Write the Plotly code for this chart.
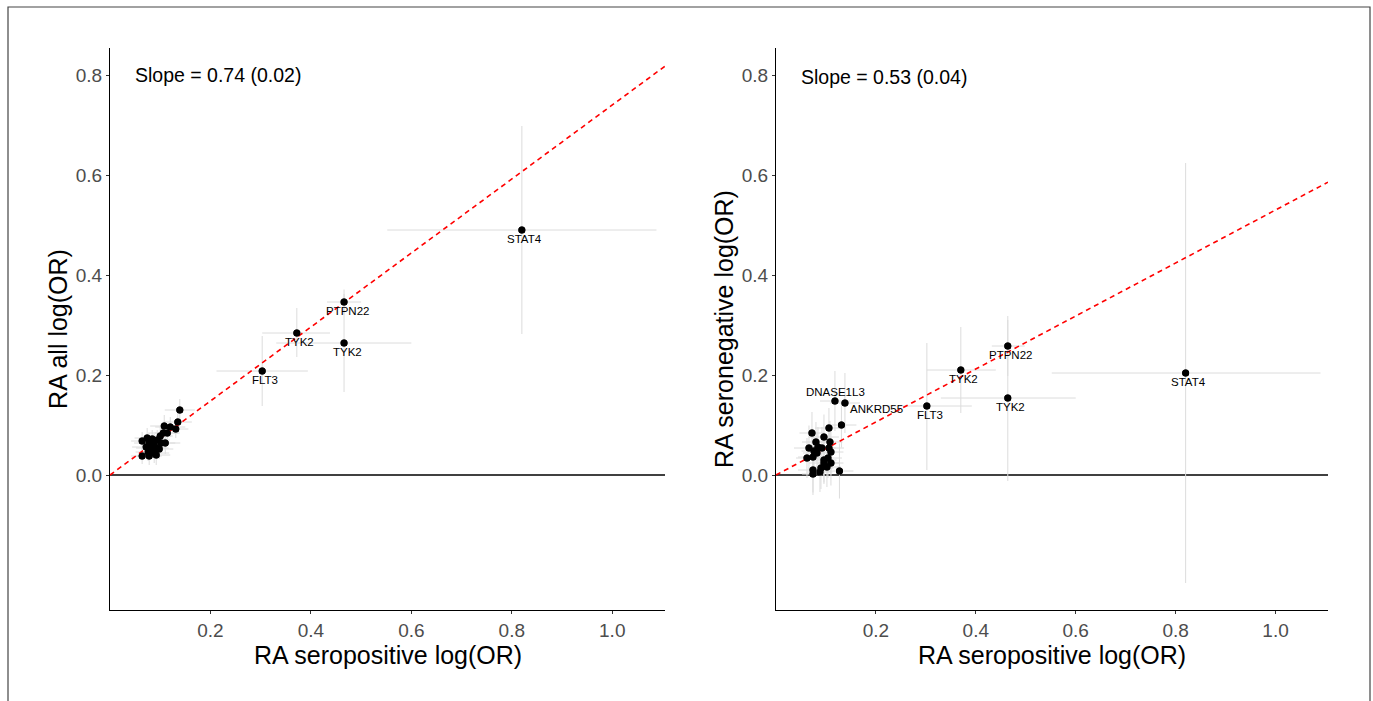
import plotly.graph_objects as go

W, H = 1373, 701

# ---------------- Left panel: RA seropositive vs RA all ----------------
left_genes = ["STAT4", "PTPN22", "TYK2", "TYK2", "FLT3"]
left_gene_x = [0.820, 0.466, 0.372, 0.466, 0.303]
left_gene_y = [0.490, 0.346, 0.284, 0.264, 0.208]
left_gene_xlo = [0.268, 0.034, 0.069, 0.135, 0.091]
left_gene_xhi = [0.268, 0.034, 0.066, 0.134, 0.091]
left_gene_ylo = [0.208, 0.025, 0.048, 0.098, 0.070]
left_gene_yhi = [0.208, 0.025, 0.050, 0.098, 0.070]

left_clu_x = [0.139, 0.135, 0.131, 0.120, 0.108, 0.114, 0.106, 0.100, 0.102, 0.110,
              0.094, 0.084, 0.074, 0.064, 0.078, 0.088, 0.072, 0.082, 0.092, 0.098,
              0.076, 0.088, 0.078, 0.064, 0.092]
left_clu_y = [0.130, 0.106, 0.092, 0.096, 0.098, 0.084, 0.084, 0.078, 0.064, 0.064,
              0.070, 0.072, 0.074, 0.068, 0.064, 0.060, 0.056, 0.054, 0.054, 0.052,
              0.046, 0.044, 0.038, 0.038, 0.040]
left_clu_ex = [0.030, 0.028, 0.025, 0.030, 0.028, 0.025, 0.030, 0.025, 0.028, 0.030,
               0.025, 0.028, 0.025, 0.022, 0.030, 0.025, 0.028, 0.030, 0.025, 0.028,
               0.025, 0.030, 0.025, 0.022, 0.028]
left_clu_ey = [0.022, 0.020, 0.018, 0.020, 0.022, 0.018, 0.020, 0.018, 0.020, 0.022,
               0.020, 0.018, 0.020, 0.018, 0.020, 0.022, 0.018, 0.020, 0.018, 0.020,
               0.018, 0.020, 0.018, 0.016, 0.020]
left_slope = 0.74
left_slope_se = 0.02

# ---------------- Right panel: RA seropositive vs RA seronegative ----------------
right_genes = ["STAT4", "PTPN22", "TYK2", "TYK2", "FLT3", "DNASE1L3", "ANKRD55"]
right_gene_x = [0.820, 0.464, 0.370, 0.464, 0.302, 0.118, 0.138]
right_gene_y = [0.204, 0.258, 0.210, 0.154, 0.138, 0.148, 0.144]
right_gene_xlo = [0.268, 0.032, 0.068, 0.134, 0.090, 0.030, 0.030]
right_gene_xhi = [0.270, 0.034, 0.070, 0.136, 0.090, 0.030, 0.030]
right_gene_ylo = [0.420, 0.060, 0.086, 0.166, 0.128, 0.060, 0.060]
right_gene_yhi = [0.420, 0.060, 0.086, 0.156, 0.126, 0.060, 0.060]
right_label_pos = ["below", "below", "below", "below", "below", "above", "right"]

right_clu_x = [0.131, 0.106, 0.072, 0.096, 0.080, 0.108, 0.066, 0.084, 0.092, 0.106,
               0.076, 0.082, 0.110, 0.062, 0.074, 0.096, 0.104, 0.096, 0.110, 0.102,
               0.090, 0.074, 0.088, 0.074, 0.127]
right_clu_y = [0.100, 0.094, 0.084, 0.076, 0.066, 0.066, 0.054, 0.056, 0.054, 0.054,
               0.048, 0.044, 0.046, 0.034, 0.036, 0.030, 0.034, 0.024, 0.024, 0.016,
               0.014, 0.010, 0.006, 0.002, 0.008]
right_clu_ex = [0.030, 0.028, 0.025, 0.030, 0.028, 0.025, 0.030, 0.025, 0.028, 0.030,
                0.025, 0.028, 0.025, 0.022, 0.030, 0.025, 0.028, 0.030, 0.025, 0.028,
                0.025, 0.030, 0.025, 0.022, 0.028]
right_clu_ey = [0.045, 0.040, 0.042, 0.045, 0.040, 0.042, 0.045, 0.040, 0.042, 0.045,
                0.040, 0.042, 0.045, 0.040, 0.042, 0.045, 0.040, 0.042, 0.045, 0.040,
                0.042, 0.045, 0.040, 0.042, 0.055]
right_slope = 0.53
right_slope_se = 0.04

x_ticks = [0.2, 0.4, 0.6, 0.8, 1.0]
y_ticks = [0.0, 0.2, 0.4, 0.6, 0.8]
x_range = [0.0, 1.105]
y_range = [-0.27, 0.854]

x_title = "RA seropositive log(OR)"
left_y_title = "RA all log(OR)"
right_y_title = "RA seronegative log(OR)"

ERR = "#DCDCDC"
FONT = "Liberation Sans, Arial, sans-serif"

fig = go.Figure()


def add_panel(xa, ya, gx, gy, gxlo, gxhi, gylo, gyhi, cx, cy, cex, cey, slope):
    xs = gx + cx
    ys = gy + cy
    fig.add_trace(go.Scatter(
        x=xs, y=ys, mode="markers", xaxis=xa, yaxis=ya,
        marker=dict(size=7, color="black"),
        error_x=dict(type="data", array=gxhi + cex, arrayminus=gxlo + cex,
                     color=ERR, thickness=1, width=0),
        error_y=dict(type="data", array=gyhi + cey, arrayminus=gylo + cey,
                     color=ERR, thickness=1, width=0),
        showlegend=False, hoverinfo="x+y"))
    fig.add_trace(go.Scatter(
        x=[0, x_range[1]], y=[0, slope * x_range[1]], mode="lines",
        xaxis=xa, yaxis=ya, line=dict(color="#FF0000", width=1.6, dash="5px,4px"),
        showlegend=False, hoverinfo="skip"))
    fig.add_trace(go.Scatter(
        x=xs, y=ys, mode="markers", xaxis=xa, yaxis=ya,
        marker=dict(size=7, color="black"), showlegend=False, hoverinfo="skip"))


add_panel("x", "y", left_gene_x, left_gene_y, left_gene_xlo, left_gene_xhi,
          left_gene_ylo, left_gene_yhi, left_clu_x, left_clu_y, left_clu_ex, left_clu_ey, left_slope)
add_panel("x2", "y2", right_gene_x, right_gene_y, right_gene_xlo, right_gene_xhi,
          right_gene_ylo, right_gene_yhi, right_clu_x, right_clu_y, right_clu_ex, right_clu_ey, right_slope)

lab_font = dict(size=11.5, color="black", family=FONT)
annotations = []
for g, x, y in zip(left_genes, left_gene_x, left_gene_y):
    annotations.append(dict(x=x, y=y, xref="x", yref="y", text=g, showarrow=False,
                            yanchor="middle", yshift=-9, xshift=3, font=lab_font))
for g, x, y, p in zip(right_genes, right_gene_x, right_gene_y, right_label_pos):
    if p == "below":
        annotations.append(dict(x=x, y=y, xref="x2", yref="y2", text=g, showarrow=False,
                                yanchor="middle", yshift=-9, xshift=3, font=lab_font))
    elif p == "above":
        annotations.append(dict(x=x, y=y, xref="x2", yref="y2", text=g, showarrow=False,
                                yanchor="middle", yshift=9, xshift=1, font=lab_font))
    else:
        annotations.append(dict(x=x, y=y, xref="x2", yref="y2", text=g, showarrow=False,
                                xanchor="left", yanchor="middle", yshift=-6, xshift=3,
                                font=lab_font))

slope_font = dict(size=19.5, color="black", family=FONT)
annotations.append(dict(x=133 / W, y=1 - 75 / H, xref="paper", yref="paper",
                        xanchor="left", yanchor="middle",
                        text=f"Slope = {left_slope:.2f} ({left_slope_se:.2f})",
                        showarrow=False, font=slope_font))
annotations.append(dict(x=799 / W, y=1 - 77 / H, xref="paper", yref="paper",
                        xanchor="left", yanchor="middle",
                        text=f"Slope = {right_slope:.2f} ({right_slope_se:.2f})",
                        showarrow=False, font=slope_font))

title_font = dict(size=25, color="black", family=FONT)
# x-axis titles placed as centred annotations below each panel
for dom_ref in ["x domain", "x2 domain"]:
    annotations.append(dict(x=0.5, y=1 - 655 / H, xref=dom_ref, yref="paper",
                            xanchor="center", yanchor="middle", text=x_title,
                            showarrow=False, font=title_font))

shapes = [
    dict(type="line", xref="x domain", yref="y", x0=0, x1=1, y0=0, y1=0,
         line=dict(color="black", width=1.5), layer="below"),
    dict(type="line", xref="x2 domain", yref="y2", x0=0, x1=1, y0=0, y1=0,
         line=dict(color="black", width=1.5), layer="below"),
    dict(type="rect", xref="paper", yref="paper", x0=8 / W, x1=1370 / W, y0=-0.05, y1=1 - 7 / H,
         line=dict(color="#444444", width=1.2), fillcolor="rgba(0,0,0,0)"),
]

axis_common = dict(showgrid=False, zeroline=False, showline=True, linecolor="black", linewidth=1.3,
                   ticks="outside", ticklen=3, tickcolor="#333333", tickwidth=1,
                   tickfont=dict(size=19, color="#4D4D4D", family=FONT))

fig.update_layout(
    width=W, height=H, margin=dict(l=0, r=0, t=0, b=0),
    paper_bgcolor="white", plot_bgcolor="white",
    font=dict(family=FONT),
    xaxis=dict(domain=[110 / W, 665 / W], range=x_range, tickvals=x_ticks,
               ticktext=[f"{v:.1f}" for v in x_ticks], anchor="y", **axis_common),
    yaxis=dict(domain=[1 - 610 / H, 1 - 48 / H], range=y_range, tickvals=y_ticks,
               ticktext=[f"{v:.1f}" for v in y_ticks], anchor="x",
               title=dict(text=left_y_title, font=title_font, standoff=0), **axis_common),
    xaxis2=dict(domain=[776 / W, 1328 / W], range=x_range, tickvals=x_ticks,
                ticktext=[f"{v:.1f}" for v in x_ticks], anchor="y2", **axis_common),
    yaxis2=dict(domain=[1 - 610 / H, 1 - 48 / H], range=y_range, tickvals=y_ticks,
                ticktext=[f"{v:.1f}" for v in y_ticks], anchor="x2",
                title=dict(text=right_y_title, font=title_font, standoff=0), **axis_common),
    annotations=annotations, shapes=shapes,
)

fig.write_html("out.html", config={"displayModeBar": False},
               post_script="document.body.style.margin='0px';")
